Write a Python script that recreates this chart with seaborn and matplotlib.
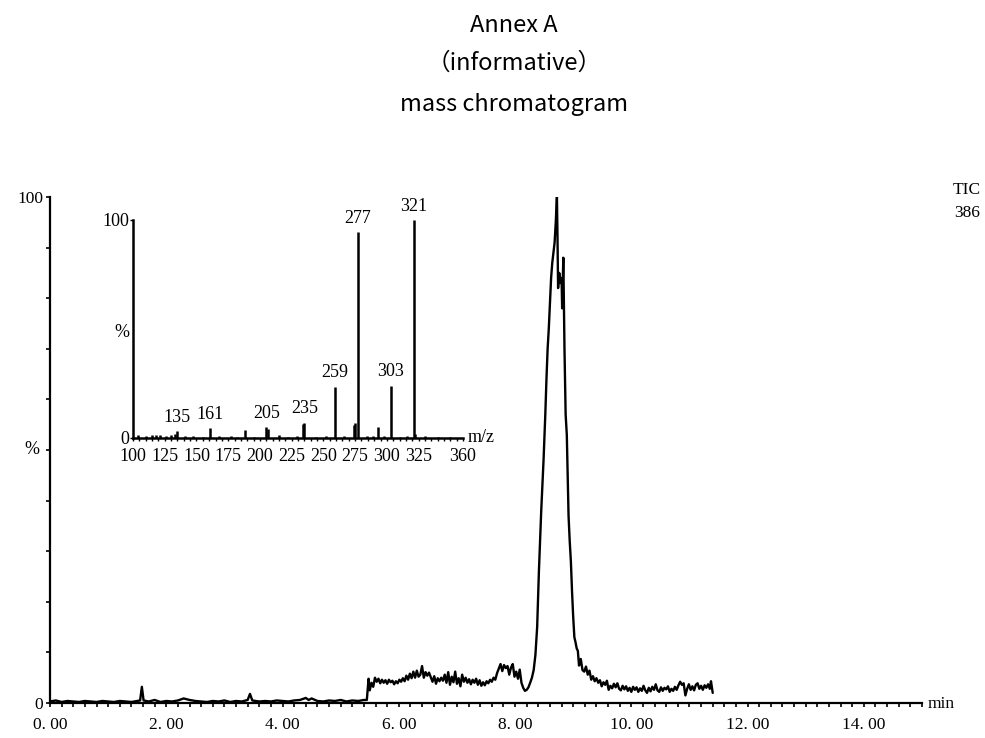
import numpy as np
import pandas as pd
import matplotlib
matplotlib.use("Agg")
import matplotlib.pyplot as plt
import seaborn as sns
from matplotlib.ticker import MultipleLocator

# ---------------- data: total ion chromatogram (TIC) ----------------
base_t = [0.00,0.10,0.20,0.30,0.40,0.50,0.60,0.70,0.80,0.90,1.00,1.10,1.20,1.30,1.40,1.50,1.55,1.58,1.61,
          1.70,1.80,1.90,2.00,2.10,2.20,2.30,2.40,2.50,2.60,2.70,2.80,2.90,3.00,3.10,3.20,3.30,3.40,3.44,3.48,
          3.60,3.70,3.80,3.90,4.00,4.10,4.20,4.30,4.40,4.45,4.50,4.60,4.70,4.80,4.90,5.00,5.10,5.20,5.30,5.40]
base_v = [0.3,0.5,0.2,0.4,0.3,0.2,0.4,0.3,0.2,0.4,0.3,0.2,0.4,0.3,0.2,0.4,0.5,3.2,0.5,
          0.3,0.6,0.2,0.4,0.3,0.5,0.9,0.6,0.4,0.3,0.2,0.4,0.3,0.5,0.2,0.4,0.3,0.6,1.8,0.5,
          0.3,0.4,0.3,0.5,0.4,0.3,0.5,0.6,1.0,0.6,0.9,0.4,0.3,0.5,0.4,0.6,0.3,0.5,0.4,0.6]

hump_t = [5.45,5.48,5.50,5.53,5.56,5.59,5.62,5.65,5.68,5.71,5.74,5.77,5.80,5.83,5.86,5.89,5.92,5.95,5.98,
          6.01,6.04,6.07,6.10,6.13,6.16,6.19,6.22,6.25,6.28,6.31,6.34,6.37,6.40,6.43,6.46,6.49,6.52,6.55,
          6.58,6.61,6.64,6.67,6.70,6.73,6.76,6.79,6.82,6.85,6.88,6.91,6.94,6.97,7.00,7.03,7.06,7.09,7.12,
          7.15,7.18,7.21,7.24,7.27,7.30,7.33,7.36,7.39,7.42,7.45,7.48,7.51,7.54,7.57,7.60,7.63,7.66,7.69,
          7.72,7.75,7.78,7.81,7.84,7.87,7.90,7.93,7.96,7.99,8.02,8.05,8.08,8.11,8.14,8.17,8.20,8.23,8.26,
          8.29,8.32,8.35]
hump_v = [0.6,4.8,2.5,4.0,3.2,5.0,4.2,4.8,3.9,4.6,4.0,4.5,3.8,4.6,4.1,4.4,3.7,4.3,3.9,
          4.6,4.2,4.9,4.3,5.4,4.6,5.8,4.9,6.2,5.0,6.4,5.2,5.6,7.3,5.0,6.1,5.4,6.0,5.1,
          4.2,5.3,3.8,4.9,4.3,5.0,4.4,5.6,4.0,6.1,3.6,5.2,4.1,6.2,3.8,4.9,3.3,5.6,4.2,
          5.0,4.0,4.7,3.7,4.6,4.0,4.8,3.6,4.5,3.4,4.1,3.5,4.3,3.9,4.6,4.2,5.0,4.6,5.9,
          6.8,7.7,6.3,7.5,6.9,7.3,5.6,7.0,7.7,5.2,6.2,4.8,6.6,4.0,3.0,2.4,2.6,3.1,4.0,
          5.0,6.5,9.5]

peak_t = [8.38,8.41,8.45,8.49,8.52,8.54,8.56,8.58,8.60,8.62,8.64,8.66,8.68,8.70,8.72,8.73,8.74,8.76,
          8.78,8.80,8.81,8.83,8.85,8.87,8.89,8.91,8.92,8.94,8.96,8.98,9.00,9.02,9.04,9.06]
peak_v = [15,26,38,48,57,64,70,74,79,84,87,89,91,95,100,92,82,85,
          83,84,78,88,70,57,53,42,37,32,28,22,17,13,12,10.8]

tail_t = [9.08,9.10,9.13,9.16,9.19,9.22,9.25,9.28,9.31,9.34,9.37,9.40,9.43,9.46,9.49,9.52,9.55,9.58,
          9.61,9.64,9.67,9.70,9.73,9.76,9.79,9.82,9.85,9.88,9.91,9.94,9.97,10.00,10.03,10.06,10.09,
          10.12,10.15,10.18,10.21,10.24,10.27,10.30,10.33,10.36,10.39,10.42,10.45,10.48,10.51,10.54,
          10.57,10.60,10.63,10.66,10.69,10.72,10.75,10.78,10.81,10.84,10.87,10.90,10.93,10.96,10.99,
          11.02,11.05,11.08,11.11,11.14,11.17,11.20,11.23,11.26,11.29,11.32,11.35,11.37,11.40]
tail_v = [10.3,7.4,8.7,6.5,6.2,7.2,5.6,6.4,4.6,5.3,4.3,4.9,4.0,4.5,3.3,4.1,3.6,4.4,
          2.6,3.4,2.9,3.8,3.1,3.9,2.8,2.5,3.4,2.7,3.3,2.4,3.0,2.2,3.2,2.6,3.1,
          2.2,2.9,2.4,3.4,2.5,2.0,3.0,2.3,3.2,2.6,3.7,2.5,2.2,3.1,2.4,
          3.0,2.7,3.3,2.2,2.8,2.4,3.2,2.6,3.5,4.2,3.6,3.9,1.5,2.8,3.7,
          2.6,3.3,2.5,3.6,3.9,2.8,3.4,2.6,3.5,3.0,3.7,2.8,4.3,2.0]

# ---------------- data: inset mass spectrum ----------------
mz = [104,110,115,118,121,126,130,133,135,141,147,155,161,168,177,182,188,195,205,206,
      215,222,229,234,235,244,252,259,266,274,275,277,284,289,293,298,303,310,316,321,322,330,340,350]
rel_int = [1.5,1.0,1.5,1.5,1.2,0.8,1.5,2.0,3.0,0.8,0.8,0.6,4.5,0.7,1.0,0.6,3.7,0.6,5.0,4.0,
           1.5,0.6,0.7,6.5,7.0,0.6,0.7,23.5,0.8,6.0,7.0,94.5,1.0,0.8,5.0,0.7,24.0,0.6,0.8,100.0,2.0,0.7,0.6,0.5]
labelled_mz = [135,161,205,235,259,277,303,321]
labelled_int = [3.0,4.5,5.0,7.0,23.5,94.5,24.0,100.0]

main_xticks = [0, 2, 4, 6, 8, 10, 12, 14]
main_xlabels = ["0. 00", "2. 00", "4. 00", "6. 00", "8. 00", "10. 00", "12. 00", "14. 00"]
inset_xticks = [100, 125, 150, 175, 200, 225, 250, 275, 300, 325, 360]
inset_xlabels = ["100", "125", "150", "175", "200", "225", "250", "275", "300", "325", "360"]

# ---------------- figure ----------------
sns.set_theme(style="white")
plt.rcParams["font.family"] = ["Liberation Serif", "DejaVu Serif"]
plt.rcParams["text.color"] = "black"
plt.rcParams["xtick.color"] = "black"
plt.rcParams["ytick.color"] = "black"
W, H = 985, 738
fig = plt.figure(figsize=(W / 100, H / 100), dpi=100)

def fx(px):
    return px / W

def fy(py):
    return 1 - py / H

serif = ["Liberation Serif", "DejaVu Serif"]
cjk = ["Noto Sans CJK SC", "DejaVu Sans"]

# main chromatogram axes
ax = fig.add_axes([fx(50), fy(703), fx(922) - fx(50), fy(197) - fy(703)])
tic = pd.DataFrame({
    "t": base_t + hump_t + peak_t + tail_t,
    "v": base_v + hump_v + peak_v + tail_v,
})
sns.lineplot(data=tic, x="t", y="v", ax=ax, color="black", linewidth=1.7,
             estimator=None, sort=False)
ax.set_xlim(0, 15)
ax.set_ylim(0, 100)
ax.set_xlabel("")
ax.set_ylabel("")
for s in ["top", "right"]:
    ax.spines[s].set_visible(False)
for s in ["left", "bottom"]:
    ax.spines[s].set_color("black")
    ax.spines[s].set_linewidth(1.6)
ax.set_xticks(main_xticks)
ax.set_xticklabels(main_xlabels, fontsize=12.5, family=serif, color="black")
ax.xaxis.set_minor_locator(MultipleLocator(0.2))
ax.set_yticks([0, 100])
ax.set_yticklabels(["0", "100"], fontsize=12.5, family=serif, color="black")
ax.yaxis.set_minor_locator(MultipleLocator(10))
ax.tick_params(axis="both", which="both", direction="out", length=3, width=1.2,
               colors="black", bottom=True, left=True)
ax.tick_params(axis="x", which="major", pad=7)
ax.tick_params(axis="y", which="major", pad=2)
ax.patch.set_alpha(0)

# inset spectrum axes
ins = fig.add_axes([fx(133), fy(438), fx(463) - fx(133), fy(220) - fy(438)])
ins.vlines(mz, 0, rel_int, color="black", linewidth=1.8)
for m, h in zip(labelled_mz, labelled_int):
    ins.text(m, h + 2.5, str(m), ha="center", va="bottom", fontsize=13, family=serif, color="black")
ins.set_xlim(100, 360)
ins.set_ylim(0, 100)
for s in ["top", "right"]:
    ins.spines[s].set_visible(False)
for s in ["left", "bottom"]:
    ins.spines[s].set_color("black")
    ins.spines[s].set_linewidth(1.8)
ins.set_xticks(inset_xticks)
ins.set_xticklabels(inset_xlabels, fontsize=13, family=serif, color="black")
ins.xaxis.set_minor_locator(MultipleLocator(5))
ins.set_yticks([0, 100])
ins.set_yticklabels(["0", "100"], fontsize=13, family=serif, color="black")
ins.tick_params(axis="both", which="both", direction="out", length=2, width=1.0,
                colors="black", bottom=True, left=True)
ins.tick_params(axis="x", which="major", pad=5)
ins.tick_params(axis="y", which="major", pad=1)
ins.patch.set_alpha(0)

# free texts
fig.text(fx(514), fy(25), "Annex A", ha="center", va="center", fontsize=17, family=cjk, color="black")
fig.text(fx(514), fy(63), "（informative）", ha="center", va="center", fontsize=17, family=cjk, color="black")
fig.text(fx(514), fy(105), "mass chromatogram", ha="center", va="center", fontsize=17, family=cjk, color="black")
fig.text(fx(967), fy(190), "TIC", ha="center", va="center", fontsize=12.5, family=serif, color="black")
fig.text(fx(967), fy(213), "386", ha="center", va="center", fontsize=12.5, family=serif, color="black")
fig.text(fx(32), fy(450), "%", ha="center", va="center", fontsize=13, family=serif, color="black")
fig.text(fx(122), fy(333), "%", ha="center", va="center", fontsize=13, family=serif, color="black")
fig.text(fx(928), fy(704), "min", ha="left", va="center", fontsize=12.5, family=serif, color="black")
fig.text(fx(468), fy(438), "m/z", ha="left", va="center", fontsize=13, family=serif, color="black")

fig.savefig("out.png", dpi=100, facecolor="white")
